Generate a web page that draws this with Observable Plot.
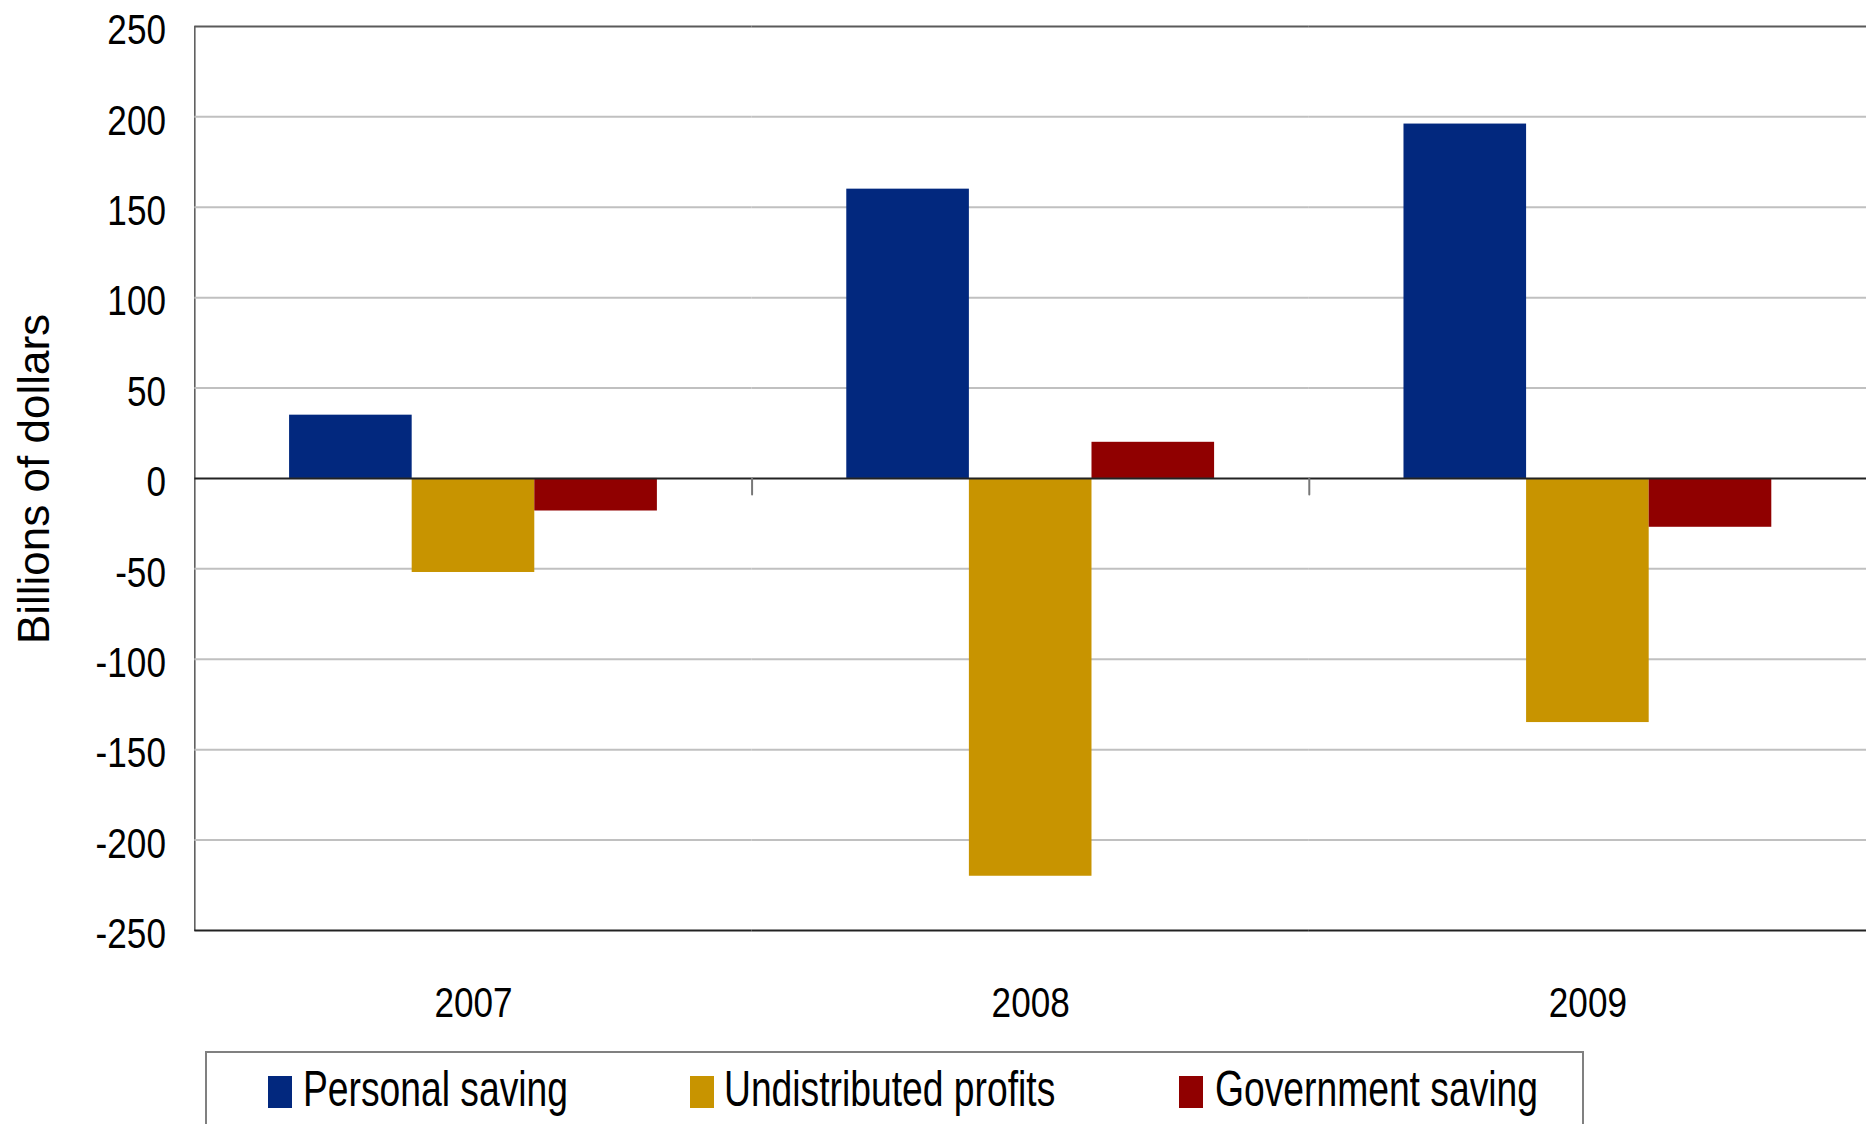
<!DOCTYPE html>
<html>
<head>
<meta charset="utf-8">
<script src="https://cdn.jsdelivr.net/npm/d3@7"></script>
<script src="https://cdn.jsdelivr.net/npm/@observablehq/plot@0.6"></script>
<style>
  html, body { margin: 0; padding: 0; background: #fff; overflow: hidden; }
  #page { position: relative; width: 1866px; height: 1124px; overflow: hidden; }
  #chart { position: absolute; left: 0; top: 0; }
  #ylabel {
    position: absolute; left: 34px; top: 479px;
    transform: translate(-50%, -50%) rotate(-90deg);
    white-space: nowrap; font-family: "Liberation Sans", Arial, sans-serif;
    font-size: 44px; line-height: 1; color: #000;
  }
  #legend {
    position: absolute; left: 205px; top: 1051px; width: 1379px; height: 120px;
    border: 2px solid #808080; box-sizing: border-box;
  }
  .sw { position: absolute; top: 23px; width: 24px; height: 32px; }
  .lab {
    position: absolute; top: 8px; white-space: nowrap;
    font-family: "Liberation Sans", Arial, sans-serif;
    font-size: 50px; line-height: 1.15; color: #000;
    transform-origin: left center; transform: scaleX(0.745);
  }
</style>
</head>
<body>
<div id="page">
  <div id="chart"></div>
  <div id="ylabel"></div>
  <div id="legend"></div>
</div>
<script>
// ---- data ----
const years = ["2007", "2008", "2009"];
const series = ["Personal saving", "Undistributed profits", "Government saving"];
const personalSaving = [35, 160, 196];
const undistributedProfits = [-52, -220, -135];
const governmentSaving = [-18, 20, -27];
const yTicks = [-250, -200, -150, -100, -50, 0, 50, 100, 150, 200, 250];
const gridValues = [-200, -150, -100, -50, 50, 100, 150, 200];
const colors = ["#02287e", "#c89400", "#900000"];
const yLabel = "Billions of dollars";

// ---- table ----
const valuesBySeries = [personalSaving, undistributedProfits, governmentSaving];
const rows = years.flatMap((year, i) =>
  series.map((s, j) => ({year, series: s, value: valuesBySeries[j][i]}))
);
const boundaries = years.slice(1).map(year => ({year}));

const chart = Plot.plot({
  width: 1872,
  height: 1045,
  marginLeft: 195,
  marginRight: 0,
  marginTop: 26,
  marginBottom: 112,
  style: {
    fontFamily: "'Liberation Sans', Arial, sans-serif",
    fontSize: "43px",
    color: "#000",
    background: "#fff",
    overflow: "visible"
  },
  fx: {domain: years, padding: 0, label: null, tickSize: 0, tickPadding: 56, axis: "bottom"},
  x: {domain: series, paddingInner: 0, paddingOuter: 0.76, axis: null},
  y: {domain: [-250, 250], ticks: yTicks, tickSize: 0, tickPadding: 29, label: null,
      tickFormat: d => String(d), line: true},
  color: {domain: series, range: colors},
  marks: [
    Plot.ruleY(gridValues, {stroke: "#c0c0c0", strokeWidth: 2}),
    Plot.barY(rows, {fx: "year", x: "series", y: "value", fill: "series"}),
    Plot.ruleY([0], {stroke: "#222", strokeWidth: 2}),
    Plot.ruleY([250], {stroke: "#5a5a5a", strokeWidth: 2}),
    Plot.ruleY([-250], {stroke: "#222", strokeWidth: 2}),
    Plot.vector(boundaries, {fx: "year", y: 0, frameAnchor: "left", length: 16, rotate: 180,
      anchor: "start", r: 0, stroke: "#777", strokeWidth: 2})
  ]
});
document.getElementById("chart").appendChild(chart);

// narrow the axis text (Arial Narrow look)
chart.querySelectorAll("text").forEach(t => {
  const len = t.getComputedTextLength();
  if (len > 0) {
    t.setAttribute("textLength", (len * 0.82).toFixed(1));
    t.setAttribute("lengthAdjust", "spacingAndGlyphs");
  }
});
// nudge y tick labels slightly down, as in the original
chart.querySelectorAll("g[aria-label='y-axis tick label']").forEach(g => {
  const tr = g.getAttribute("transform") || "";
  g.setAttribute("transform", tr + " translate(0,4)");
});

document.getElementById("ylabel").textContent = yLabel;

// ---- legend ----
const legend = document.getElementById("legend");
const swatchLeft = [61, 483, 972];
const textLeft = [96, 517, 1008];
series.forEach((s, i) => {
  const sw = document.createElement("div");
  sw.className = "sw";
  sw.style.left = swatchLeft[i] + "px";
  sw.style.background = colors[i];
  legend.appendChild(sw);
  const lab = document.createElement("div");
  lab.className = "lab";
  lab.style.left = textLeft[i] + "px";
  lab.textContent = s;
  legend.appendChild(lab);
});
</script>
</body>
</html>
